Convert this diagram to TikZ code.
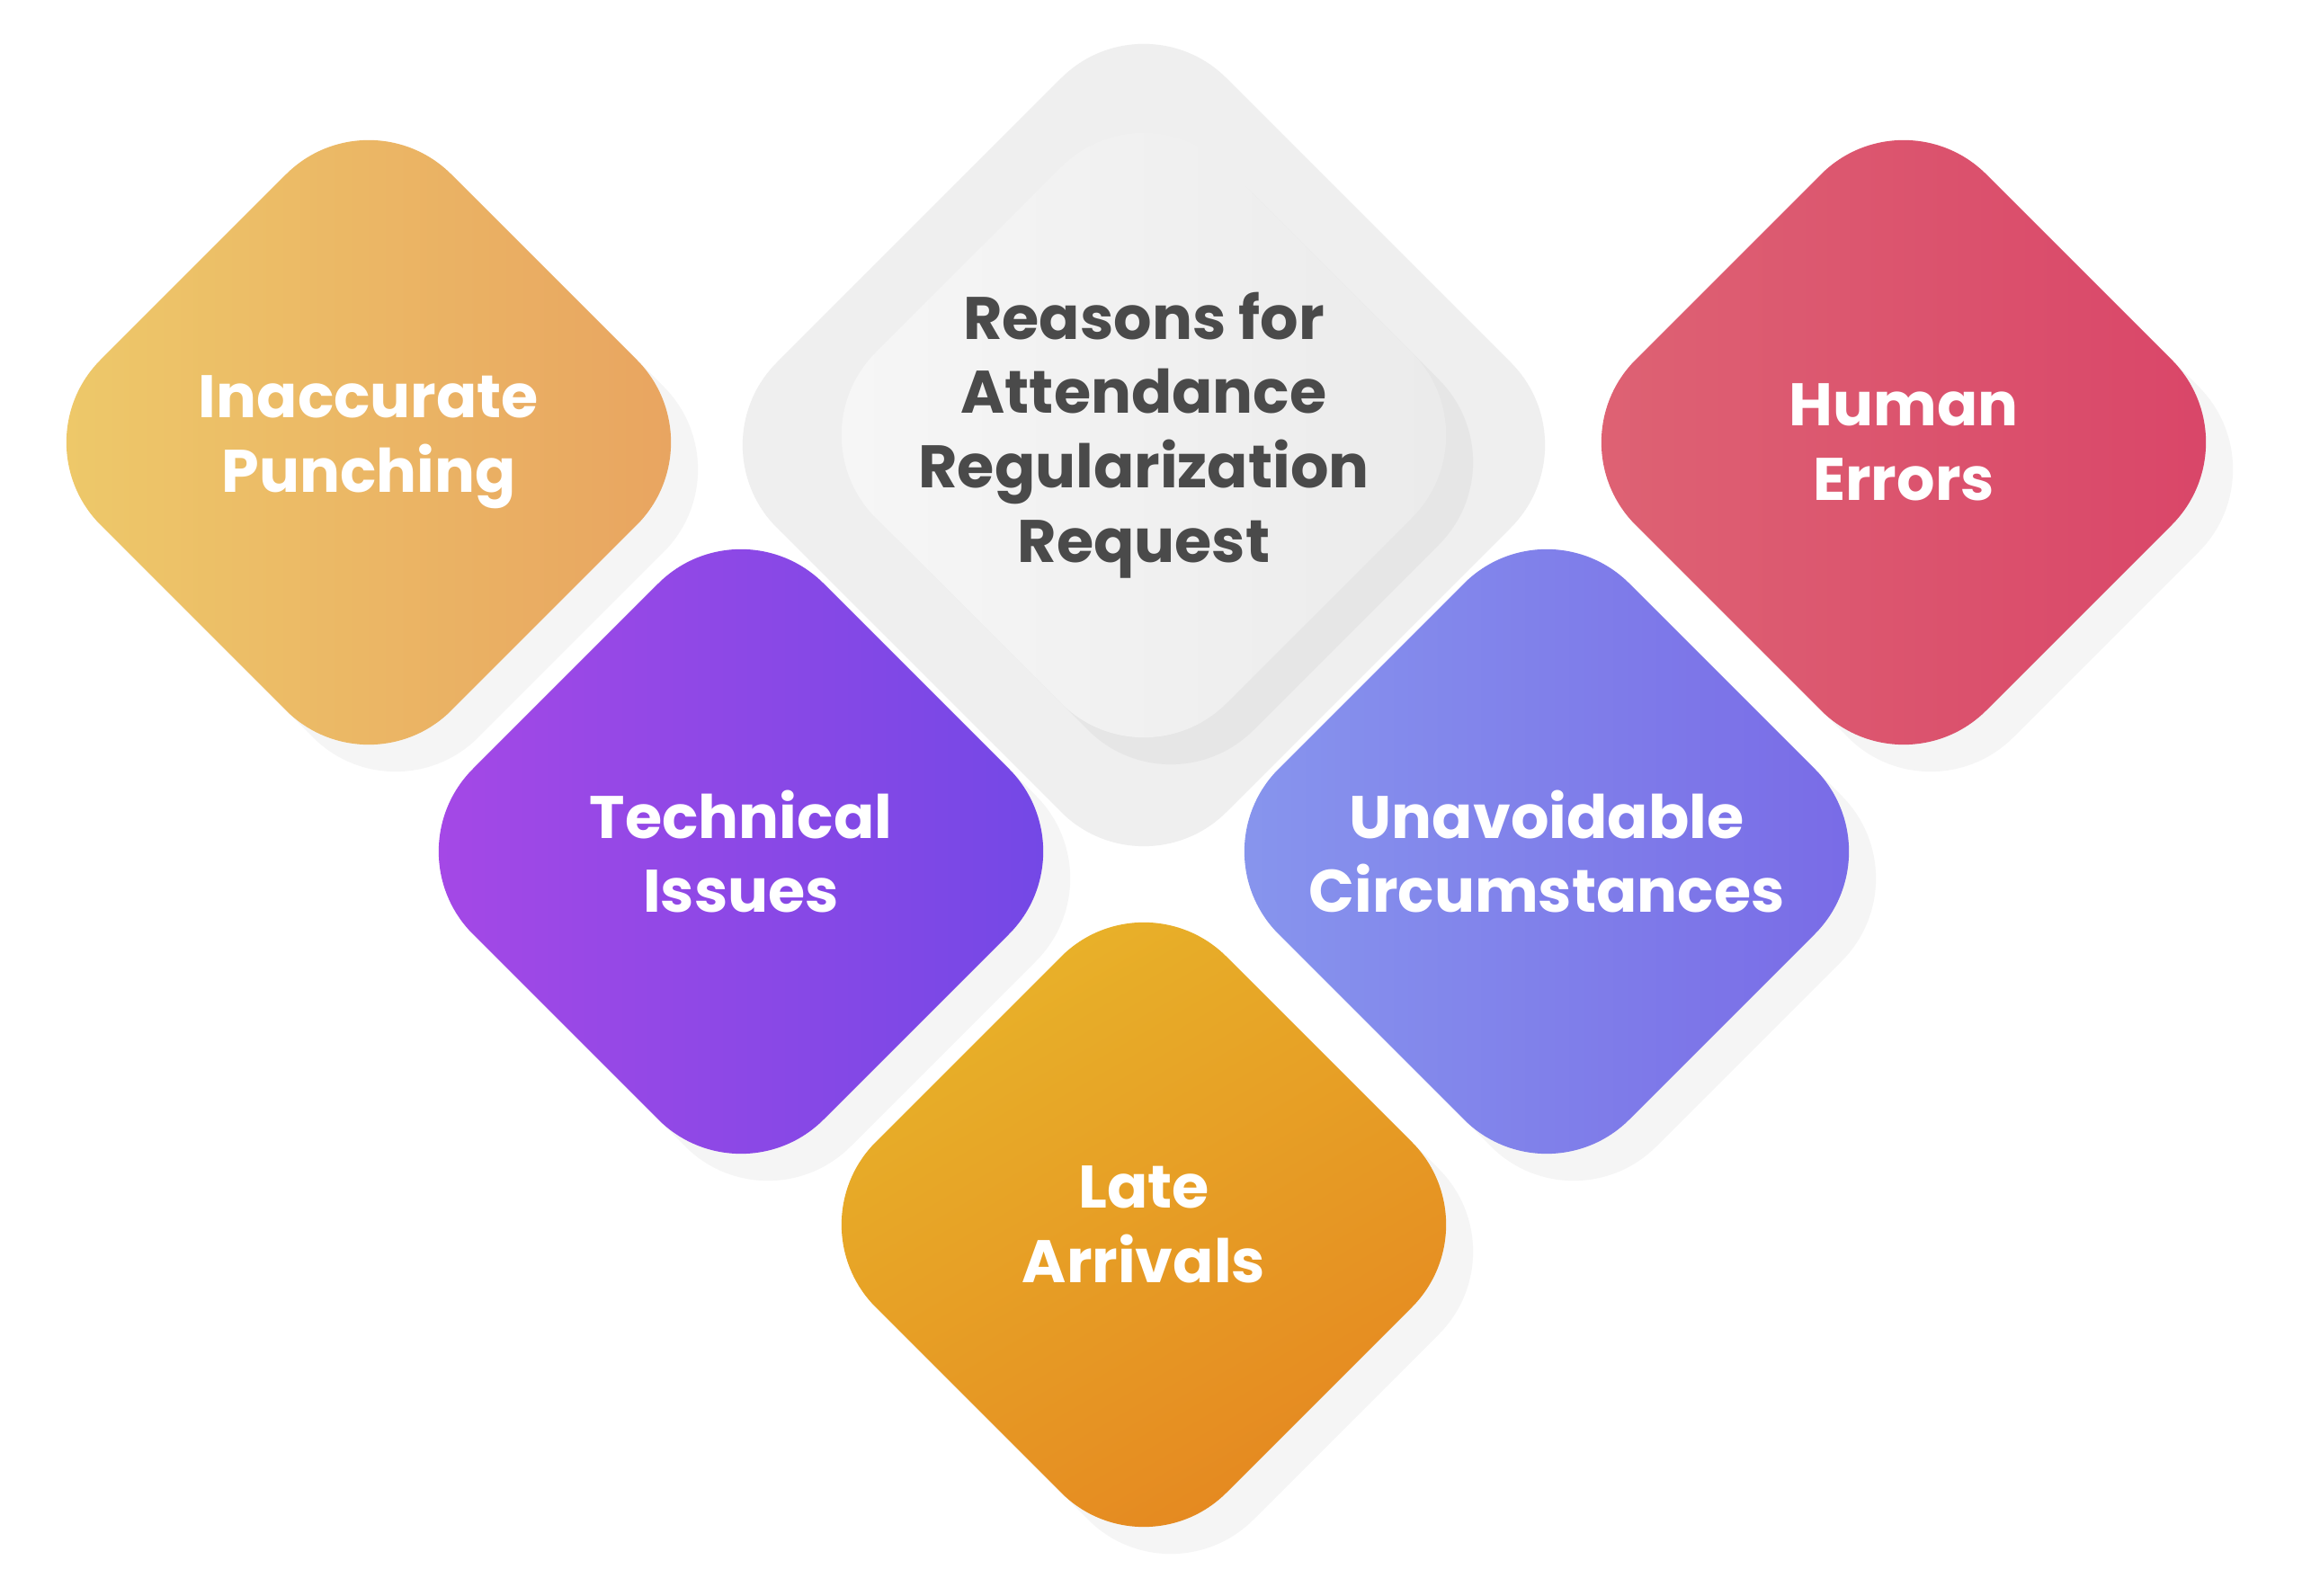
\documentclass[tikz,border=0pt]{standalone}
\usepackage{fontspec}
\setmainfont{Poppins}
\usetikzlibrary{shadows}
\definecolor{inaccL}{HTML}{EECB6A}\definecolor{inaccR}{HTML}{E8A260}
\definecolor{techL}{HTML}{A848E6}\definecolor{techR}{HTML}{7048E6}
\definecolor{humanL}{HTML}{DE6474}\definecolor{humanR}{HTML}{D94468}
\definecolor{unavL}{HTML}{8898EE}\definecolor{unavR}{HTML}{7868E6}
\definecolor{lateT}{HTML}{E8B52A}\definecolor{lateB}{HTML}{E58520}
\definecolor{coreL}{HTML}{F7F7F7}\definecolor{coreR}{HTML}{EAEAEA}
\definecolor{halo}{HTML}{EFEFEF}\definecolor{coretext}{HTML}{4A4A4A}
% diamond: #1 centre, #2 half diagonal, #3 fill options
\newcommand{\diam}[3]{%
  \begin{scope}[shift={(#1)}]
    \path[rounded corners=1.3cm, #3]
      (-#2/2,#2/2) -- (0,#2) -- (#2,0) -- (0,-#2) -- (-#2,0) -- cycle;
  \end{scope}}
\begin{document}
\begin{tikzpicture}[
    soft/.style={drop shadow={opacity=0.08, shadow xshift=0.3cm, shadow yshift=-0.3cm}},
    lbl/.style={text=white, font=\fontsize{19}{23.5}\selectfont\bfseries, align=center}
  ]
  \useasboundingbox[fill=white] (0,0) rectangle (25.6,17.75);
  \coordinate (core) at (12.72,12.91);
  \coordinate (inacc) at (4.10,12.83);
  \coordinate (human) at (21.17,12.83);
  \coordinate (tech) at (8.24,8.28);
  \coordinate (unav) at (17.20,8.28);
  \coordinate (late) at (12.72,4.13);

  \diam{12.72,12.80}{5.0}{fill=halo}
  \diam{core}{3.9}{left color=coreL, right color=coreR, soft}
  \diam{inacc}{3.9}{left color=inaccL, right color=inaccR, soft}
  \diam{human}{3.9}{left color=humanL, right color=humanR, soft}
  \diam{tech}{3.9}{left color=techL, right color=techR, soft}
  \diam{unav}{3.9}{left color=unavL, right color=unavR, soft}
  \diam{late}{3.9}{top color=lateT, bottom color=lateB, shading angle=30, soft}

  \node[lbl, text=coretext] (coretxt) at (core) {Reasons for\\Attendance\\Regularization\\Request};
  \node[lbl] (inacctxt) at (inacc) {Inaccurate\\Punching};
  \node[lbl] (humantxt) at (human) {Human\\Errors};
  \node[lbl] (techtxt) at (tech) {Technical\\Issues};
  \node[lbl] (unavtxt) at (unav) {Unavoidable\\Circumstances};
  \node[lbl] (latetxt) at (late) {Late\\Arrivals};
\end{tikzpicture}
\end{document}
